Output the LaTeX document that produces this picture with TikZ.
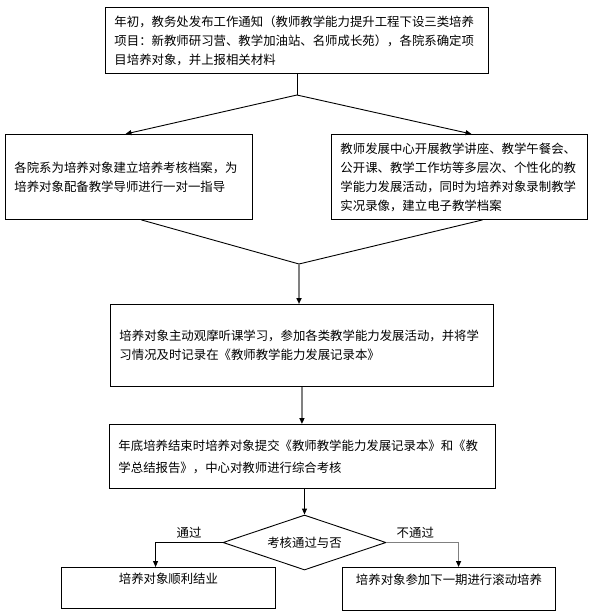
\documentclass[tikz,border=0pt]{standalone}
\usepackage{fontspec}
\setmainfont{Noto Sans CJK SC}
\usetikzlibrary{shapes,arrows,positioning,calc,arrows.meta}
\tikzset{
    box/.style={draw, line width=0.9pt, anchor=north west, inner xsep=9pt, inner ysep=0pt, align=left, font=\fontsize{12.4}{19}\selectfont},
    link/.style={draw, line width=0.9pt, -{Triangle[length=6pt,width=5pt]}},
    flow/.style={draw=gray, line width=1.6pt, -{Triangle[length=6pt,width=5pt,color=black]}},
    tag/.style={font=\fontsize{12.4}{15}\selectfont}
}

\begin{document}
\begin{tikzpicture}[x=1pt, y=-1pt]
    \useasboundingbox (0,0) rectangle (598,614);

    \node[box, text width=365pt, minimum height=66pt] (notice) at (105,7)
        {年初，教务处发布工作通知（教师教学能力提升工程下设三类培养\\项目：新教师研习营、教学加油站、名师成长苑），各院系确定项\\目培养对象，并上报相关材料};
    \node[box, text width=229pt, minimum height=85pt] (archive) at (5,134)
        {各院系为培养对象建立培养考核档案，为\\培养对象配备教学导师进行一对一指导};
    \node[box, text width=238pt, minimum height=85pt] (devcenter) at (331,134)
        {教师发展中心开展教学讲座、教学午餐会、\\公开课、教学工作坊等多层次、个性化的教\\学能力发展活动，同时为培养对象录制教学\\实况录像，建立电子教学档案};
    \node[box, text width=365pt, minimum height=82pt] (study) at (110,304)
        {培养对象主动观摩听课学习，参加各类教学能力发展活动，并将学\\习情况及时记录在《教师教学能力发展记录本》};
    \node[box, text width=368pt, minimum height=64pt, font=\fontsize{12.4}{22}\selectfont] (review) at (109,424)
        {年底培养结束时培养对象提交《教师教学能力发展记录本》和《教\\学总结报告》，中心对教师进行综合考核};
    \node[draw, line width=0.9pt, diamond, aspect=2.9, minimum width=163pt, minimum height=55pt, inner sep=0pt, tag] (decide) at (304.5,542.5)
        {考核通过与否};
    \node[box, text width=196pt, minimum height=41pt, align=center] (pass) at (61,567)
        {培养对象顺利结业\\\mbox{}};
    \node[box, text width=195pt, minimum height=43pt, align=center] (fail) at (342,567)
        {培养对象参加下一期进行滚动培养\\\mbox{}};

    \coordinate (split) at (notice.south |- 0,95);
    \draw[line width=0.9pt] (notice.south) -- (split);
    \draw[link] (split) -- ($(archive.north west)!0.486!(archive.north east)$);
    \draw[link] (split) -- ($(devcenter.north west)!0.547!(devcenter.north east)$);

    \coordinate (merge) at (299,264);
    \draw[line width=0.9pt] ($(archive.south west)!0.55!(archive.south east)$) -- (merge);
    \draw[line width=0.9pt] ($(devcenter.south west)!0.59!(devcenter.south east)$) -- (merge);
    \draw[flow] (merge) -- (merge |- study.north);
    \draw[flow] (study.south) -- (study.south |- review.north);
    \draw[link] (decide.north |- review.south) -- (decide.north);

    \draw[link] (decide.west) -| node[pos=0.25, above, tag] {通过} ($(pass.north west)!0.44!(pass.north east)$);
    \draw[flow, line width=1.2pt] (decide.east) -| node[pos=0.2, above, tag] {不通过} ($(fail.north west)!0.545!(fail.north east)$);
\end{tikzpicture}
\end{document}
